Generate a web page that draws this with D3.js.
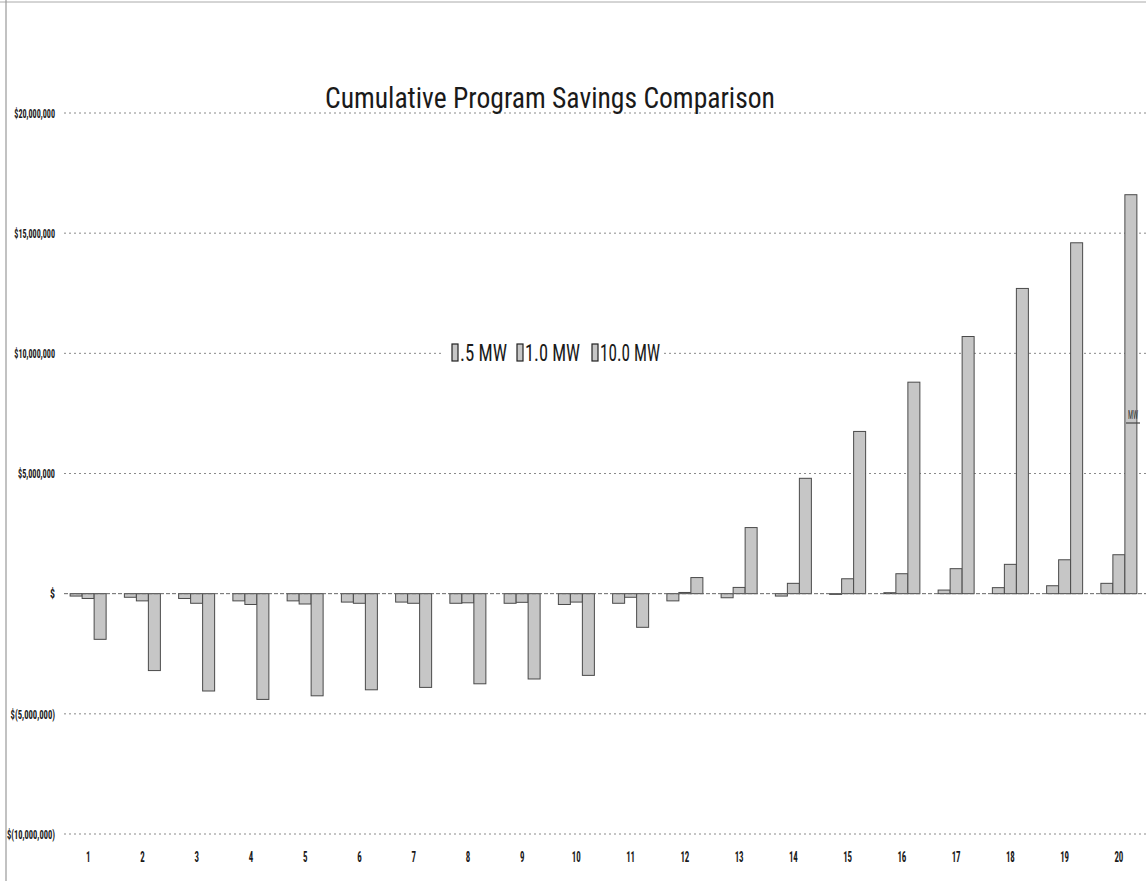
<!DOCTYPE html>
<html>
<head>
<meta charset="utf-8">
<script src="https://cdnjs.cloudflare.com/ajax/libs/d3/7.8.5/d3.min.js"></script>
<style>
  html, body { margin: 0; padding: 0; background: #fff; }
  svg { display: block; }
</style>
</head>
<body>
<div id="chart"></div>
<script>
// ---- data ----
const categories = ["1","2","3","4","5","6","7","8","9","10","11","12","13","14","15","16","17","18","19","20"];
const seriesNames = [".5 MW", "1.0 MW", "10.0 MW"];
const mw05  = [-100000,-150000,-200000,-300000,-300000,-350000,-350000,-400000,-400000,-450000,-400000,-300000,-170000,-100000,-30000,40000,150000,250000,330000,430000];
const mw10  = [-200000,-300000,-400000,-450000,-430000,-400000,-400000,-380000,-360000,-350000,-150000,50000,260000,430000,620000,830000,1040000,1220000,1410000,1620000];
const mw100 = [-1900000,-3200000,-4050000,-4400000,-4250000,-4000000,-3900000,-3750000,-3550000,-3400000,-1400000,670000,2750000,4800000,6750000,8800000,10700000,12700000,14600000,16600000];
const yTicks = [20000000,15000000,10000000,5000000,0,-5000000,-10000000];
const yTickLabels = ["$20,000,000","$15,000,000","$10,000,000","$5,000,000","$","$(5,000,000)","$(10,000,000)"];
const titleText = "Cumulative Program Savings Comparison";

const seriesValues = [mw05, mw10, mw100];
const table = categories.map((c, i) => ({ cat: c, vals: seriesNames.map((s, k) => ({ key: s, value: seriesValues[k][i] })) }));

const W = 1146, H = 881;
const svg = d3.select("#chart").append("svg").attr("width", W).attr("height", H);
const narrow = "'Liberation Sans Narrow', 'Roboto Condensed', 'DejaVu Sans Condensed', 'Liberation Sans', Arial, sans-serif";

// page border lines (scan)
svg.append("line").attr("x1", 0).attr("x2", W).attr("y1", 2).attr("y2", 2).attr("stroke", "#aaa").attr("stroke-width", 1);
svg.append("line").attr("x1", 6).attr("x2", 6).attr("y1", 0).attr("y2", H).attr("stroke", "#999").attr("stroke-width", 1.2);

// scales
const y = d3.scaleLinear().domain([-10000000, 20000000]).range([834, 113]);
const x = d3.scaleBand().domain(categories).range([61, 1146]).paddingInner(0).paddingOuter(0);
const bw = x.bandwidth();
const xs = d3.scaleBand().domain(seriesNames).range([bw / 2 - 18, bw / 2 + 18]).padding(0);

// gridlines
const gridX1 = 64, gridX2 = 1146;
svg.append("g").selectAll("line").data(yTicks.filter(t => t !== 0)).join("line")
  .attr("x1", gridX1).attr("x2", gridX2)
  .attr("y1", d => y(d)).attr("y2", d => y(d))
  .attr("stroke", "#8a8a8a").attr("stroke-width", 1).attr("stroke-dasharray", "2,3");

// title
svg.append("text").attr("x", 550).attr("y", 108).attr("text-anchor", "middle")
  .attr("font-family", narrow).attr("font-size", 30).attr("fill", "#1a1a1a")
  .attr("textLength", 450).attr("lengthAdjust", "spacingAndGlyphs")
  .text(titleText);

// bars
const groups = svg.append("g").selectAll("g").data(table).join("g")
  .attr("transform", d => `translate(${x(d.cat)},0)`);
groups.selectAll("rect").data(d => d.vals).join("rect")
  .attr("x", d => xs(d.key))
  .attr("width", xs.bandwidth())
  .attr("y", d => Math.min(y(d.value), y(0)))
  .attr("height", d => Math.abs(y(d.value) - y(0)))
  .attr("fill", "#c6c6c6")
  .attr("stroke", "#4a4a4a")
  .attr("stroke-width", 1);

// zero baseline
svg.append("line").attr("x1", gridX1).attr("x2", gridX2).attr("y1", y(0)).attr("y2", y(0))
  .attr("stroke", "#666").attr("stroke-width", 1).attr("stroke-dasharray", "4,2");

// y axis
const yAxis = d3.axisLeft(y).tickValues(yTicks)
  .tickFormat(d => yTickLabels[yTicks.indexOf(d)]).tickSize(0).tickPadding(0);
const gy = svg.append("g").attr("transform", "translate(55,0)").call(yAxis);
gy.select(".domain").remove();
gy.selectAll("text").attr("font-family", narrow).attr("font-size", 13).attr("font-weight", "bold").attr("fill", "#1a1a1a")
  .attr("text-anchor", "end")
  .attr("textLength", function () { return Math.max(5, this.textContent.length * 3.7); })
  .attr("lengthAdjust", "spacingAndGlyphs");

// x axis
const xAxis = d3.axisBottom(x).tickSize(0).tickPadding(0);
const gx = svg.append("g").attr("transform", "translate(0,851)").call(xAxis);
gx.select(".domain").remove();
gx.selectAll("text").attr("font-family", narrow).attr("font-size", 15).attr("font-weight", "bold").attr("fill", "#1a1a1a")
  .attr("textLength", function () { return this.textContent.length * 4.5; })
  .attr("lengthAdjust", "spacingAndGlyphs");

// legend
const legendX = [452, 517, 592];
const legendW = [47, 55, 60];
svg.append("rect").attr("x", 444).attr("y", 339).attr("width", 220).attr("height", 27).attr("fill", "#fff");
const lg = svg.append("g").selectAll("g").data(seriesNames).join("g")
  .attr("transform", (d, i) => `translate(${legendX[i]},343)`);
lg.append("rect").attr("x", 0).attr("y", 1).attr("width", 6).attr("height", 17)
  .attr("fill", "#c6c6c6").attr("stroke", "#222").attr("stroke-width", 1.2);
lg.append("text").attr("x", 8).attr("y", 18)
  .attr("font-family", narrow).attr("font-size", 23).attr("fill", "#1a1a1a")
  .attr("textLength", (d, i) => legendW[i]).attr("lengthAdjust", "spacingAndGlyphs")
  .text(d => d);

// stray label fragment at right (as in the scan)
svg.append("text").attr("x", 1133).attr("y", 419).attr("text-anchor", "middle")
  .attr("font-family", narrow).attr("font-size", 12).attr("fill", "#333")
  .attr("textLength", 10).attr("lengthAdjust", "spacingAndGlyphs").text("MW");
svg.append("line").attr("x1", 1126).attr("x2", 1140).attr("y1", 423).attr("y2", 423)
  .attr("stroke", "#444").attr("stroke-width", 1.2);
</script>
</body>
</html>
